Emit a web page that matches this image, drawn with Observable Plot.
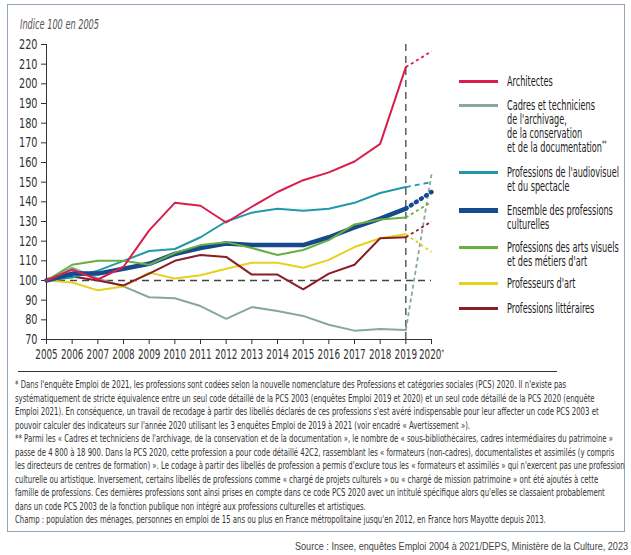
<!DOCTYPE html>
<html><head><meta charset="utf-8">
<script src="https://cdn.jsdelivr.net/npm/d3@7"></script>
<script src="https://cdn.jsdelivr.net/npm/@observablehq/plot@0.6"></script>
<style>
body{margin:0;background:#fff;}
#root{position:relative;width:631px;height:555px;overflow:hidden;font-family:'Liberation Sans Narrow','DejaVu Sans Condensed','Arial Narrow',sans-serif;color:#222;}
.t{position:absolute;white-space:nowrap;transform-origin:0 50%;line-height:0.9;}
.lg{position:absolute;white-space:nowrap;transform-origin:0 0;line-height:14px;font-size:14px;color:#222;}
#root svg{position:absolute;left:0;top:0;}
</style></head><body><div id="root"></div>
<script>
// ---------- data ----------
const years = [2005,2006,2007,2008,2009,2010,2011,2012,2013,2014,2015,2016,2017,2018,2019];
const xTickYears = [2005,2006,2007,2008,2009,2010,2011,2012,2013,2014,2015,2016,2017,2018,2019,2020];
const yTickValues = [70,80,90,100,110,120,130,140,150,160,170,180,190,200,210,220];
const seriesNames = ["Architectes","Cadres et techniciens de l'archivage, de la conservation et de la documentation**","Professions de l'audiovisuel et du spectacle","Ensemble des professions culturelles","Professions des arts visuels et des métiers d'art","Professeurs d'art","Professions littéraires"];
const architectes  = [100,105.5,100.5,107,125.5,139.5,138,129.5,137.5,145,151,155,160.5,169.5,208.5];
const cadresArchivage = [100,106.5,101,97,91.5,91,87,80.5,86.5,84.5,82,77.5,74.5,75.3,74.8];
const audiovisuel  = [100,101.5,105,110,115,116,122,130,134.5,136.5,135.5,136.5,139.5,144.5,147.5];
const ensemble     = [100,103.5,103.5,106,108.5,113.5,116.5,118.8,118,118,118,122,127,131.5,136.5];
const artsVisuels  = [100,108,110,110,108,114,118,119.5,116.5,113,115.5,120.5,128.5,131,132];
const professeursArt = [100,99,95,97,104,101,102.7,106,109,109,106.5,110.5,117,121.5,123.5];
const litteraires  = [100,102,100,97.5,103.5,110,113,112,103,103,95.5,103.5,108,121.5,122];
// 2020 (recodage PCS 2020) values, same order as seriesNames
const values2020 = [216.5,154,150,145,140,114.5,130];
const legendLines = [["Architectes"],["Cadres et techniciens","de l'archivage,","de la conservation","et de la documentation"],["Professions de l'audiovisuel","et du spectacle"],["Ensemble des professions","culturelles"],["Professions des arts visuels","et des métiers d'art"],["Professeurs d'art"],["Professions littéraires"]];
const footnotes = [
"* Dans l'enquête Emploi de 2021, les professions sont codées selon la nouvelle nomenclature des Professions et catégories sociales (PCS) 2020. Il n'existe pas",
"systématiquement de stricte équivalence entre un seul code détaillé de la PCS 2003 (enquêtes Emploi 2019 et 2020) et un seul code détaillé de la PCS 2020 (enquête",
"Emploi 2021). En conséquence, un travail de recodage à partir des libellés déclarés de ces professions s'est avéré indispensable pour leur affecter un code PCS 2003 et",
"pouvoir calculer des indicateurs sur l'année 2020 utilisant les 3 enquêtes Emploi de 2019 à 2021 (voir encadré « Avertissement »).",
"** Parmi les « Cadres et techniciens de l'archivage, de la conservation et de la documentation », le nombre de « sous-bibliothécaires, cadres intermédiaires du patrimoine »",
"passe de 4 800 à 18 900. Dans la PCS 2020, cette profession a pour code détaillé 42C2, rassemblant les « formateurs (non-cadres), documentalistes et assimilés (y compris",
"les directeurs de centres de formation) ». Le codage à partir des libellés de profession a permis d'exclure tous les « formateurs et assimilés » qui n'exercent pas une profession",
"culturelle ou artistique. Inversement, certains libellés de professions comme « chargé de projets culturels » ou « chargé de mission patrimoine » ont été ajoutés à cette",
"famille de professions. Ces dernières professions sont ainsi prises en compte dans ce code PCS 2020 avec un intitulé spécifique alors qu'elles se classaient probablement",
"dans un code PCS 2003 de la fonction publique non intégré aux professions culturelles et artistiques.",
"Champ : population des ménages, personnes en emploi de 15 ans ou plus  en France métropolitaine jusqu'en 2012, en France hors Mayotte depuis 2013."
];
const yAxisTitle = "Indice 100 en 2005";
const sourceText = "Source : Insee, enquêtes Emploi 2004 à 2021/DEPS, Ministère de la Culture, 2023";

// ---------- styles ----------
const seriesValues = [architectes,cadresArchivage,audiovisuel,ensemble,artsVisuels,professeursArt,litteraires];
const colors = ["#d81e4c","#87a89c","#1f98aa","#174a8b","#6aae41","#e6d21c","#8a1d26"];
const widths = [2,2,2,4.5,2,2,2];
const dashes = ["3,3","4,3","5,4","1,5","3,3","3,3","3,3"];
const drawOrder = [1,5,6,2,3,4,0];

const root = document.getElementById("root");
const FONT = "'Liberation Sans Narrow','DejaVu Sans Condensed','Arial Narrow',sans-serif";

const marks = [
  Plot.ruleY([100], {x1: 2005, x2: 2020, stroke: "#444", strokeWidth: 1.3, strokeDasharray: "7,5"}),
  Plot.ruleX([2019], {y1: 70, y2: 220, stroke: "#444", strokeWidth: 1.3, strokeDasharray: "7,5"}),
  Plot.ruleX([2005], {y1: 70, y2: 220, stroke: "#333", strokeWidth: 1}),
  Plot.ruleY([70], {x1: 2005, x2: 2020, stroke: "#333", strokeWidth: 1}),
  Plot.axisY({ticks: yTickValues, tickSize: 5, tickPadding: 4, tickFormat: d => String(d), label: null, stroke: "#333"}),
  Plot.axisX({ticks: xTickYears, tickSize: 5, tickPadding: 5, tickFormat: d => d === 2020 ? "2020*" : String(d), label: null, stroke: "#333"})
];
for (const i of drawOrder) {
  const solid = years.map((yr, j) => ({year: yr, value: seriesValues[i][j]}));
  const proj = [{year: 2019, value: seriesValues[i][years.length - 1]}, {year: 2020, value: values2020[i]}];
  marks.push(Plot.line(proj, {x: "year", y: "value", stroke: colors[i], strokeWidth: i === 3 ? 4.5 : 1.8, strokeDasharray: dashes[i], strokeLinecap: i === 3 ? "round" : "butt"}));
  marks.push(Plot.line(solid, {x: "year", y: "value", stroke: colors[i], strokeWidth: widths[i], strokeLinejoin: "round"}));
}

const chart = Plot.plot({
  width: 631, height: 370,
  marginLeft: 46, marginRight: 200, marginTop: 44, marginBottom: 31,
  x: {domain: [2005, 2020]},
  y: {domain: [70, 220]},
  style: {fontFamily: FONT, fontSize: "13.5px", color: "#333", background: "transparent", overflow: "visible"},
  marks
});
root.appendChild(chart);

// condense axis tick labels (the reference uses a condensed face)
function condense(textEl, s, anchor) {
  const bb = textEl.getBBox();
  const cx = anchor === "end" ? bb.x + bb.width : bb.x + bb.width / 2;
  const prev = textEl.getAttribute("transform") || "";
  textEl.setAttribute("transform", `${prev} translate(${cx},0) scale(${s},1) translate(${-cx},0)`);
}
const xTexts = [...chart.querySelectorAll('g[aria-label="x-axis tick label"] text')];
const yTexts = [...chart.querySelectorAll('g[aria-label="y-axis tick label"] text')];
let xs = null, ys = null;
xTexts.forEach(t => { if (t.textContent === "2005") xs = 22.5 / t.getBBox().width; });
yTexts.forEach(t => { if (t.textContent === "220") ys = 18.5 / t.getBBox().width; });
xTexts.forEach(t => condense(t, Math.min(1, xs || 0.8), "middle"));
yTexts.forEach(t => condense(t, Math.min(1, ys || 0.85), "end"));
// superscript asterisk on 2020*
xTexts.forEach(t => {
  if (t.textContent === "2020*") {
    t.textContent = "2020";
    const s = document.createElementNS("http://www.w3.org/2000/svg", "tspan");
    s.textContent = "*"; s.setAttribute("font-size", "8"); s.setAttribute("dy", "-4");
    t.appendChild(s);
  }
});

// ---------- frame ----------
const frame = document.createElement("div");
Object.assign(frame.style, {position: "absolute", left: "7px", top: "4px", width: "618px", height: "528px", border: "1.5px solid #93a7bb", boxSizing: "border-box", pointerEvents: "none"});
root.appendChild(frame);
const rule = document.createElement("div");
Object.assign(rule.style, {position: "absolute", left: "18px", top: "370.5px", width: "539px", height: "1px", background: "#333"});
root.appendChild(rule);

function addText(txt, x, cy, fs, opts = {}) {
  const d = document.createElement("div");
  d.className = "t";
  d.textContent = txt;
  d.style.fontSize = fs + "px";
  d.style.left = x + "px";
  d.style.top = (cy - fs * 0.45) + "px";
  if (opts.color) d.style.color = opts.color;
  if (opts.italic) d.style.fontStyle = "italic";
  if (opts.family) d.style.fontFamily = opts.family;
  root.appendChild(d);
  return d;
}
function scaleTo(el, w) { const nat = el.getBoundingClientRect().width; const s = w / nat; el.style.transform = `scaleX(${s})`; return s; }

// y title
const yt = addText(yAxisTitle, 20, 24, 14, {italic: true, color: "#555"});
scaleTo(yt, 79);

// legend (one block per item)
const legendFirstCy = [81, 104.5, 172, 209.5, 246.5, 283, 308];
const legendEls = [];
legendLines.forEach((lines, i) => {
  const sw = document.createElement("div");
  const h = i === 3 ? 5 : 3;
  Object.assign(sw.style, {position: "absolute", left: "459px", width: "39px", height: h + "px", top: (legendFirstCy[i] + 0.5 - h / 2) + "px", background: colors[i]});
  root.appendChild(sw);
  const el = document.createElement("div");
  el.className = "lg";
  el.style.left = "507px";
  el.style.top = (legendFirstCy[i] - 7) + "px";
  lines.forEach((ln, k) => {
    if (k > 0) el.appendChild(document.createElement("br"));
    el.appendChild(document.createTextNode(ln));
    if (i === 1 && k === 3) {
      const sup = document.createElement("sup");
      sup.textContent = "**"; sup.style.fontSize = "8px"; sup.style.lineHeight = "0"; sup.style.verticalAlign = "5px";
      el.appendChild(sup);
    }
  });
  root.appendChild(el);
  legendEls.push(el);
});
const ls = 112 / legendEls[2].getBoundingClientRect().width; // "Professions de l'audiovisuel"
legendEls.forEach(el => el.style.transform = `scaleX(${ls})`);

// footnotes
const fEls = footnotes.map((ln, i) => addText(ln, 15, 385 + i * 13.5, 11, {color: "#333"}));
const fs = 598 / fEls[4].getBoundingClientRect().width;
fEls.forEach(el => el.style.transform = `scaleX(${fs})`);

// source
const src = addText(sourceText, 295, 547, 11, {color: "#444", family: "'Liberation Sans','DejaVu Sans',sans-serif"});
scaleTo(src, 333);
</script></body></html>
